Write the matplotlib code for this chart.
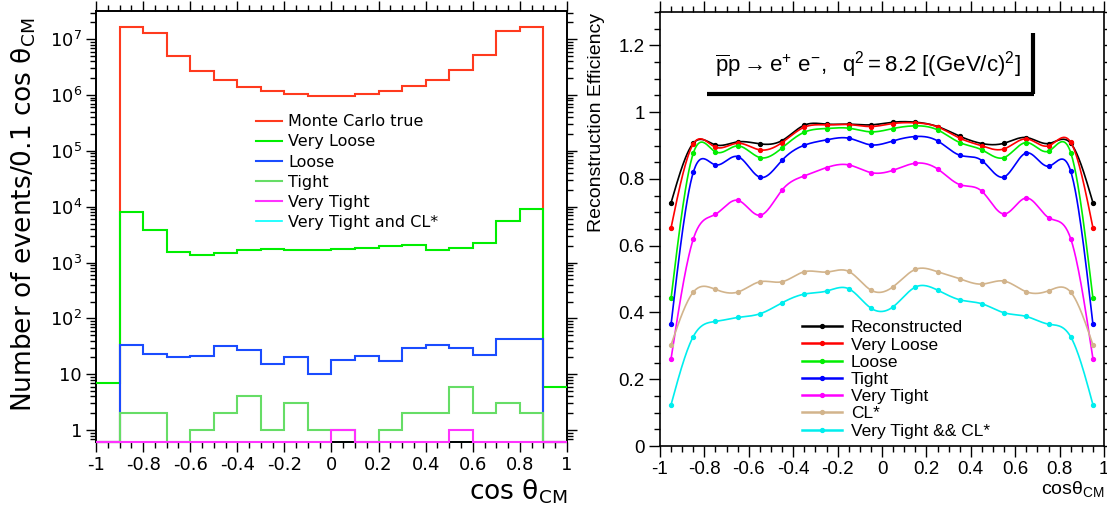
import numpy as np
import matplotlib
matplotlib.use("Agg")
import matplotlib.pyplot as plt
from matplotlib.ticker import FixedLocator, MultipleLocator, NullFormatter

plt.rcParams['axes.unicode_minus'] = False
plt.rcParams['mathtext.rm'] = 'Liberation Sans'
plt.rcParams['mathtext.it'] = 'Liberation Sans:italic'
plt.rcParams['mathtext.bf'] = 'Liberation Sans:bold'

# ---------------- left panel: histograms (20 bins of 0.1 in cos theta)
edges = np.linspace(-1, 1, 21)
mc_true = [0, 1.69e7, 1.30e7, 4.98e6, 2.75e6, 1.85e6, 1.40e6, 1.17e6, 1.04e6, 9.8e5,
           9.8e5, 1.04e6, 1.20e6, 1.44e6, 1.87e6, 2.83e6, 5.32e6, 1.41e7, 1.69e7, 0]
h_very_loose = [7, 8070, 3890, 1530, 1350, 1500, 1660, 1730, 1660, 1680,
                1730, 1800, 2010, 2090, 1700, 1830, 2220, 5570, 9020, 6]
h_loose = [0, 34, 23, 20, 21, 32, 27, 15, 20, 10,
           18, 21, 17, 29, 34, 29, 22, 42, 43, 0]
h_tight = [0, 2, 2, 0, 1, 2, 4, 1, 3, 1,
           1, 0, 1, 2, 2, 6, 2, 3, 2, 0]
h_very_tight = [0, 0, 0, 0, 0, 0, 0, 0, 0, 0,
                1, 0, 0, 0, 0, 1, 0, 0, 0, 0]
h_vt_cl = [0] * 20

# ---------------- right panel: efficiency vs cos theta (bin centres)
xc = np.round(np.linspace(-0.95, 0.95, 20), 3)
eff_reco = [0.729, 0.907, 0.902, 0.911, 0.905, 0.915, 0.961, 0.964, 0.964, 0.962,
            0.970, 0.970, 0.957, 0.928, 0.906, 0.907, 0.924, 0.906, 0.907, 0.729]
eff_vloose = [0.654, 0.905, 0.895, 0.907, 0.887, 0.909, 0.955, 0.962, 0.963, 0.957,
              0.966, 0.968, 0.956, 0.922, 0.899, 0.890, 0.920, 0.899, 0.910, 0.654]
eff_loose = [0.443, 0.877, 0.881, 0.899, 0.864, 0.893, 0.940, 0.951, 0.952, 0.941,
             0.951, 0.959, 0.947, 0.909, 0.887, 0.864, 0.909, 0.883, 0.879, 0.443]
eff_tight = [0.365, 0.820, 0.842, 0.867, 0.805, 0.856, 0.901, 0.917, 0.922, 0.902,
             0.914, 0.927, 0.914, 0.871, 0.855, 0.806, 0.878, 0.838, 0.823, 0.365]
eff_vtight = [0.262, 0.620, 0.694, 0.736, 0.691, 0.767, 0.809, 0.834, 0.842, 0.819,
              0.826, 0.847, 0.830, 0.783, 0.763, 0.695, 0.743, 0.684, 0.621, 0.262]
eff_cl = [0.303, 0.461, 0.469, 0.461, 0.492, 0.492, 0.522, 0.521, 0.523, 0.467,
          0.477, 0.529, 0.522, 0.501, 0.485, 0.494, 0.462, 0.465, 0.461, 0.303]
eff_vt_cl = [0.124, 0.328, 0.373, 0.385, 0.396, 0.429, 0.455, 0.464, 0.471, 0.413,
             0.417, 0.476, 0.467, 0.438, 0.426, 0.399, 0.388, 0.365, 0.327, 0.124]


def spline(x, y, n=500):
    # natural cubic spline, like ROOT's "C" draw option
    x = np.asarray(x, float)
    y = np.asarray(y, float)
    m = len(x)
    h = np.diff(x)
    A = np.zeros((m, m))
    b = np.zeros(m)
    A[0, 0] = A[-1, -1] = 1
    for i in range(1, m - 1):
        A[i, i - 1] = h[i - 1]
        A[i, i] = 2 * (h[i - 1] + h[i])
        A[i, i + 1] = h[i]
        b[i] = 3 * ((y[i + 1] - y[i]) / h[i] - (y[i] - y[i - 1]) / h[i - 1])
    c = np.linalg.solve(A, b)
    xs = np.linspace(x[0], x[-1], n)
    k = np.clip(np.searchsorted(x, xs) - 1, 0, m - 2)
    dx = xs - x[k]
    bb = (y[k + 1] - y[k]) / h[k] - h[k] * (2 * c[k] + c[k + 1]) / 3
    d = (c[k + 1] - c[k]) / (3 * h[k])
    return xs, y[k] + bb * dx + c[k] * dx ** 2 + d * dx ** 3


fig = plt.figure(figsize=(11.07, 5.13), dpi=100)
ax1 = fig.add_axes([0.0867, 0.1390, 0.4255, 0.8395])
ax2 = fig.add_axes([0.5962, 0.1306, 0.4011, 0.8460])

ymin, ymax = 0.62, 3.2e7
ax1.set_yscale('log')
hists = [
    (mc_true, '#ff3a1e', 'Monte Carlo true', 3, 1.5),
    (h_very_loose, '#00ee00', 'Very Loose', 4, 1.5),
    (h_loose, '#1a4cff', 'Loose', 5, 1.5),
    (h_tight, '#66dd66', 'Tight', 6, 1.5),
    (h_very_tight, '#ff33ff', 'Very Tight', 8, 1.5),
    (h_vt_cl, '#00ffff', 'Very Tight and CL*', 2, 1.2),
]
for vals, col, lab, z, lw in hists:
    v = np.maximum(np.asarray(vals, float), ymin)
    ax1.stairs(v, edges, baseline=None, color=col, lw=lw, label=lab,
               zorder=z, clip_on=False)

ax1.set_xlim(-1, 1)
ax1.set_ylim(ymin, ymax)
xt = np.round(np.arange(-1, 1.01, 0.2), 1)
ax1.set_xticks(xt)
ax1.set_xticklabels(['%g' % t if abs(t) > 1e-9 else '0' for t in xt])
ax1.xaxis.set_minor_locator(MultipleLocator(0.05))
yt = [1, 10, 1e2, 1e3, 1e4, 1e5, 1e6, 1e7]
ax1.yaxis.set_major_locator(FixedLocator(yt))
ax1.set_yticklabels(['1', '10'] + [r'$10^{%d}$' % p for p in range(2, 8)])
ax1.yaxis.set_minor_locator(FixedLocator(
    [m * 10 ** p for p in range(-1, 8) for m in range(2, 10)]))
ax1.yaxis.set_minor_formatter(NullFormatter())
ax1.tick_params(which='both', direction='out', top=True, right=True,
                labelsize=13, pad=3, width=1)
ax1.tick_params(which='major', length=7)
ax1.tick_params(which='minor', length=4)
for s in ax1.spines.values():
    s.set_linewidth(1.4)

ax1.text(-0.153, 0.984, r'Number of events/0.1 cos θ$_{\rm CM}$',
         transform=ax1.transAxes, rotation=90, ha='center', va='top', fontsize=19)
ax1.text(1.0, -0.082, r'cos θ$_{\rm CM}$', transform=ax1.transAxes,
         ha='right', va='top', fontsize=19)

leg1 = ax1.legend(loc='upper left', bbox_to_anchor=(0.34, 0.76), frameon=False,
                  fontsize=11.5, handlelength=1.6, handletextpad=0.4,
                  labelspacing=0.32, borderpad=0, borderaxespad=0)

# ---------------- right panel
curves = [
    (eff_reco, 'black', 'Reconstructed'),
    (eff_vloose, '#ff0000', 'Very Loose'),
    (eff_loose, '#00ee00', 'Loose'),
    (eff_tight, '#0000ff', 'Tight'),
    (eff_vtight, '#ff00ff', 'Very Tight'),
    (eff_cl, '#d2b48c', 'CL*'),
    (eff_vt_cl, '#00eeee', 'Very Tight && CL*'),
]
for vals, col, lab in curves:
    xs, ys = spline(xc, vals)
    ax2.plot(xs, ys, color=col, lw=1.2)
    ax2.plot(xc, vals, 'o', color=col, ms=2.8)
    ax2.plot([], [], '-o', color=col, lw=1.8, ms=2.8, label=lab)

ax2.set_xlim(-1, 1)
ax2.set_ylim(0, 1.3)
xt2 = np.round(np.arange(-1, 1.01, 0.2), 1)
ax2.set_xticks(xt2)
ax2.set_xticklabels(['%g' % t if abs(t) > 1e-9 else '0' for t in xt2])
ax2.xaxis.set_minor_locator(MultipleLocator(0.05))
yt2 = np.round(np.arange(0, 1.21, 0.2), 1)
ax2.set_yticks(yt2)
ax2.set_yticklabels(['%g' % t for t in yt2])
ax2.yaxis.set_minor_locator(MultipleLocator(0.05))
ax2.tick_params(which='both', direction='out', top=True, right=True,
                labelsize=13.5, labelfontfamily='Liberation Sans', pad=3, width=1)
ax2.tick_params(which='major', length=8)
ax2.tick_params(which='minor', length=4)
for s in ax2.spines.values():
    s.set_linewidth(1.2)

ax2.text(-0.142, 0.998, 'Reconstruction Efficiency', transform=ax2.transAxes,
         rotation=90, ha='center', va='top', fontsize=14, family='Liberation Sans')
ax2.text(1.0, -0.075, r'cosθ$_{\rm CM}$', transform=ax2.transAxes,
         ha='right', va='top', fontsize=14, family='Liberation Sans',
         math_fontfamily='custom')

ax2.text(0.468, 0.878,
         r'$\overline{\rm p}{\rm p} \rightarrow {\rm e}^{+}\ {\rm e}^{-},\ \ '
         r'{\rm q}^{2} = 8.2\ [({\rm GeV/c})^{2}]$',
         transform=ax2.transAxes, ha='center', va='center', fontsize=16,
         math_fontfamily='custom')
ax2.plot([0.106, 0.843], [0.810, 0.810], transform=ax2.transAxes,
         color='black', lw=3, solid_capstyle='butt')
ax2.plot([0.840, 0.840], [0.810, 0.952], transform=ax2.transAxes,
         color='black', lw=3, solid_capstyle='butt')

leg2 = ax2.legend(loc='upper left', bbox_to_anchor=(0.32, 0.29), frameon=False,
                  prop={'family': 'Liberation Sans', 'size': 12.5},
                  handlelength=2.3, handletextpad=0.5, labelspacing=0.12,
                  borderpad=0, borderaxespad=0, numpoints=1)

fig.savefig('out.png', dpi=100)
